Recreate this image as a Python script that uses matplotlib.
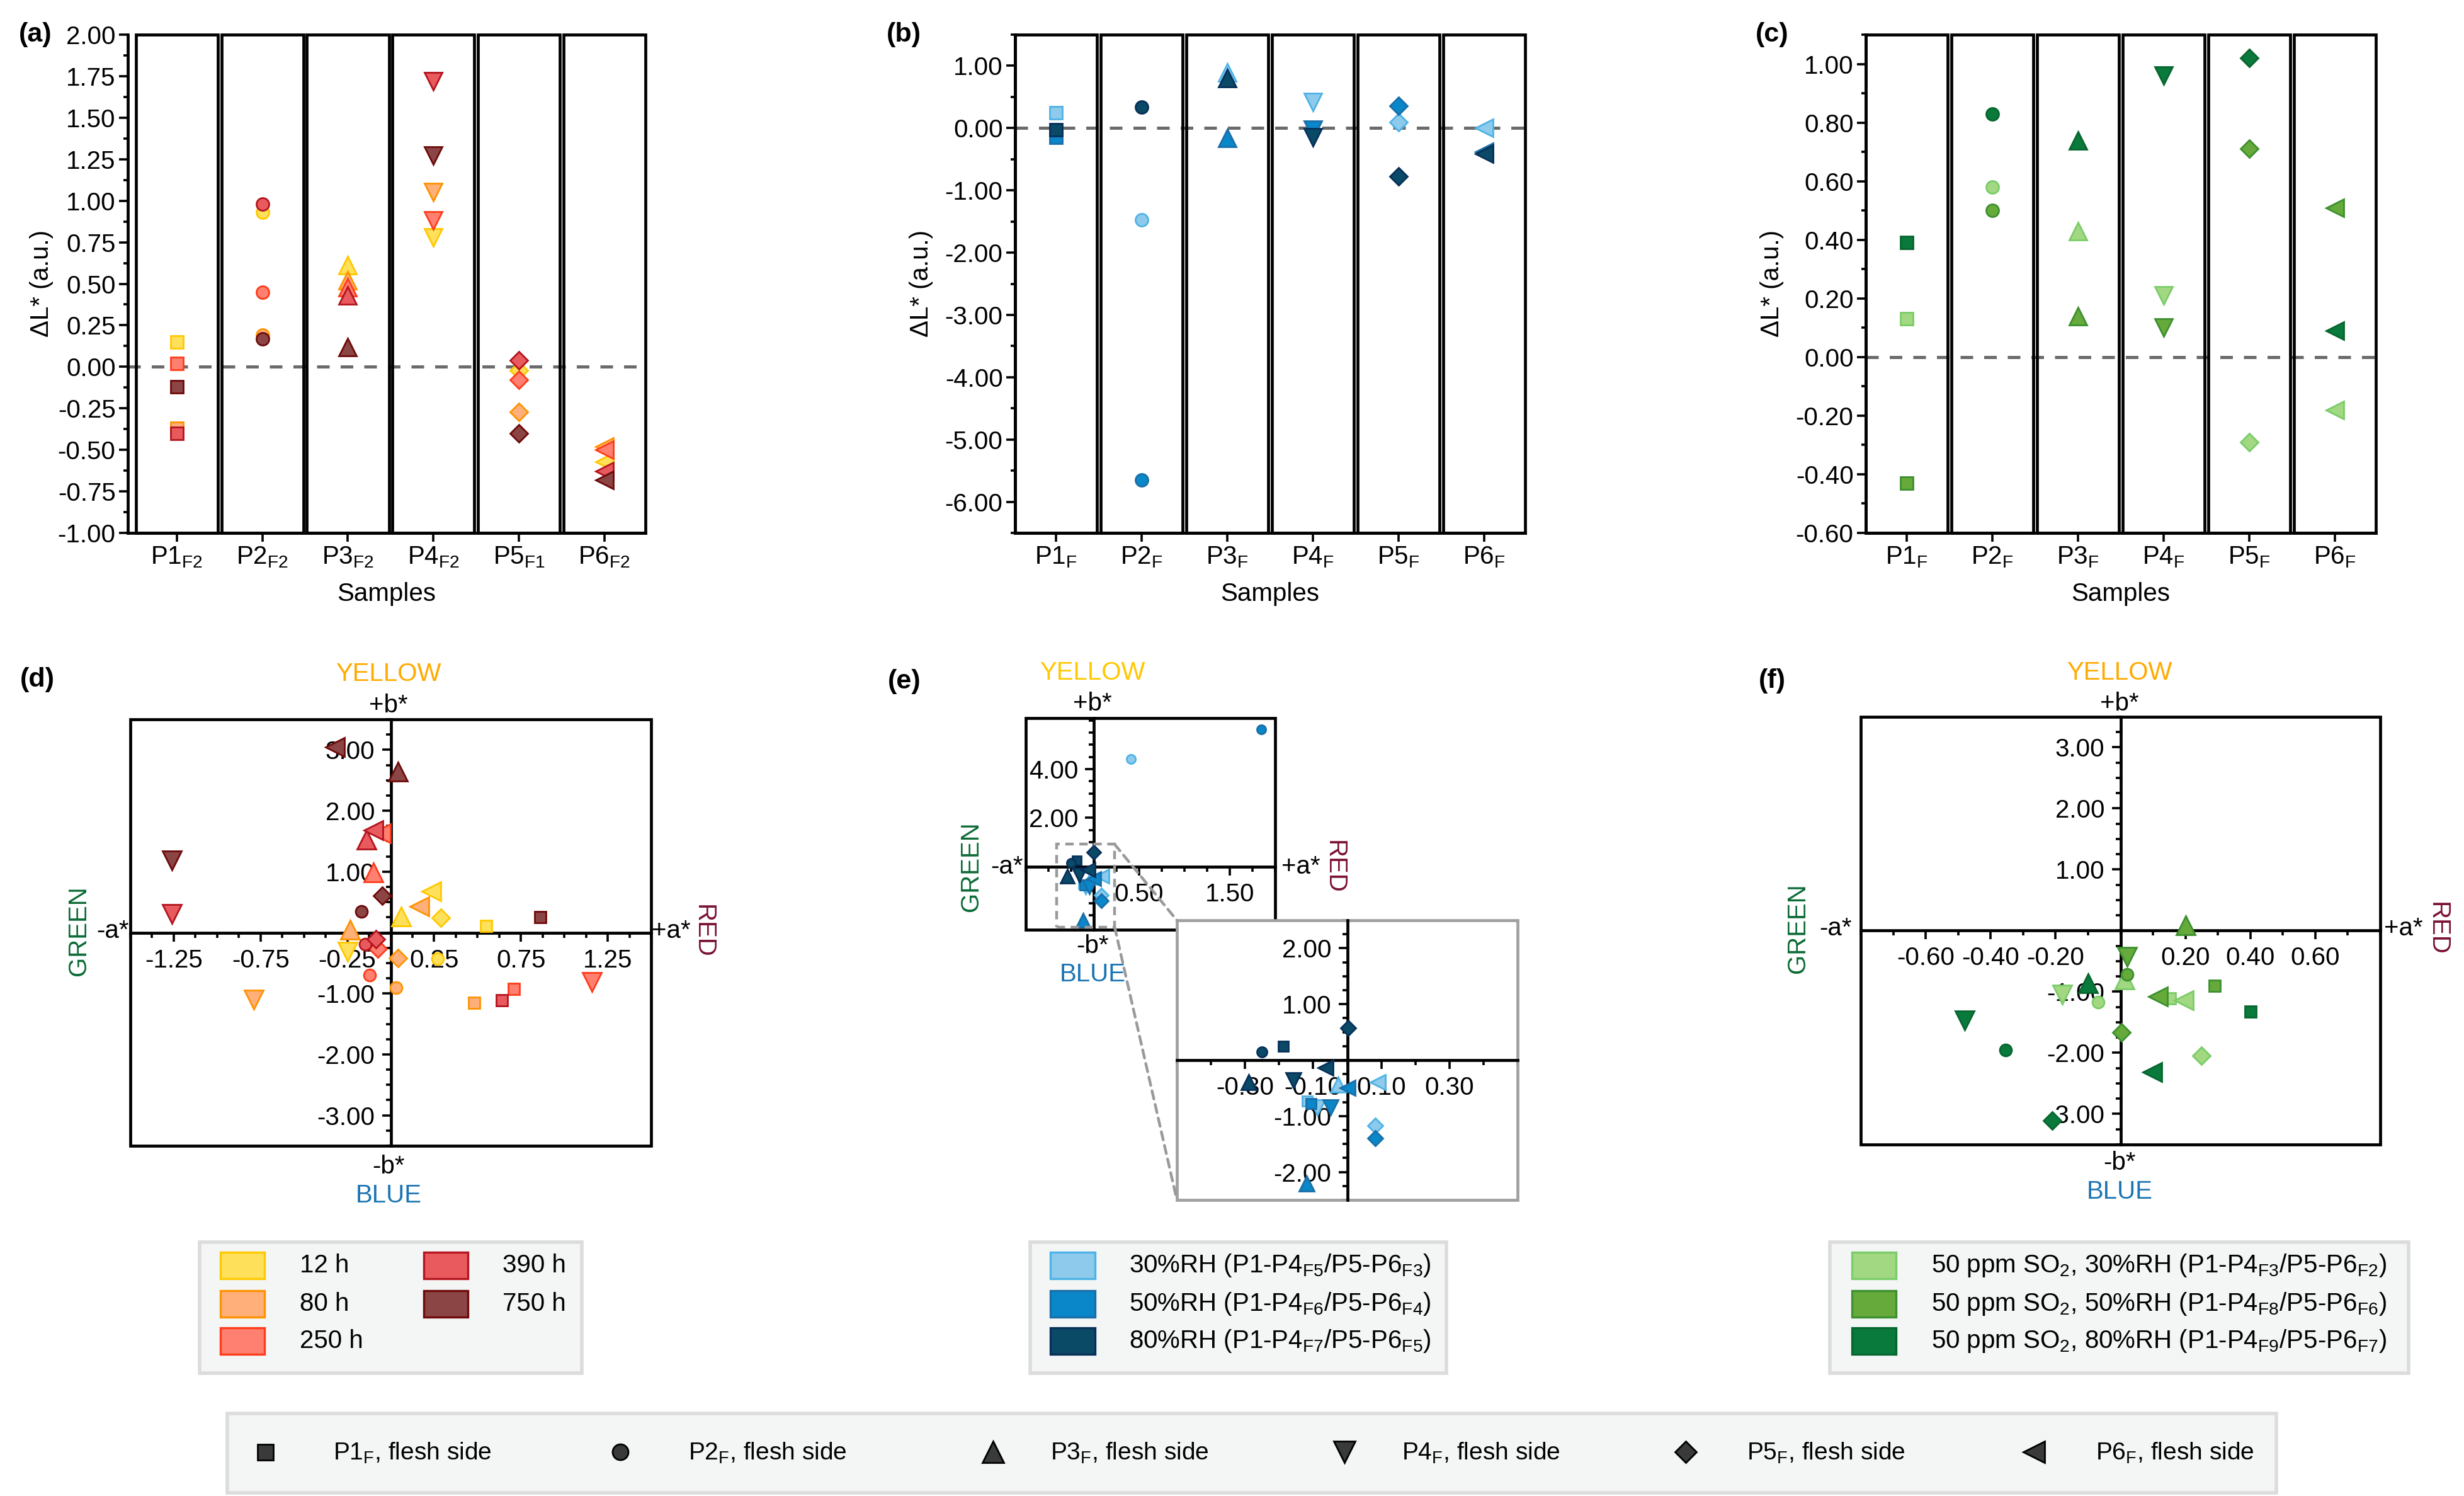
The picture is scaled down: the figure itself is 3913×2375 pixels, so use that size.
import numpy as np
import matplotlib
matplotlib.use('Agg')
import matplotlib.pyplot as plt
from matplotlib.patches import Rectangle, ConnectionPatch
from matplotlib.lines import Line2D
from matplotlib.ticker import MultipleLocator, FixedLocator, FormatStrFormatter

W, H, DPI = 3913, 2375, 200
plt.rcParams['font.family'] = ['Liberation Sans', 'DejaVu Sans']
plt.rcParams['mathtext.default'] = 'regular'
plt.rcParams['axes.unicode_minus'] = False
FS = 14.5
LW = 1.7

# ---- data ----
samples = ['P1', 'P2', 'P3', 'P4', 'P5', 'P6']
markers = ['s', 'o', '^', 'v', 'D', '<']

# (a)/(d) exposure time
hours = ['12 h', '80 h', '250 h', '390 h', '750 h']
hour_face = ['#FFE05A', '#FFB07A', '#FF8070', '#E85A5E', '#8B4545']
hour_edge = ['#FFC800', '#FF9200', '#FF3B1A', '#B3141E', '#6E0A0A']
subs_a = ['F2', 'F2', 'F2', 'F2', 'F1', 'F2']
dL_a = [[0.15, 0.93, 0.61, 0.78, -0.02, -0.57],
        [-0.37, 0.19, 0.52, 1.05, -0.27, -0.48],
        [0.02, 0.45, 0.48, 0.88, -0.08, -0.50],
        [-0.40, 0.98, 0.43, 1.72, 0.04, -0.63],
        [-0.12, 0.17, 0.12, 1.27, -0.40, -0.68]]
da_d = [[0.55, 0.27, 0.06, -0.25, 0.29, 0.235],
        [0.48, 0.03, -0.235, -0.79, 0.04, 0.164],
        [0.71, -0.12, -0.10, 1.16, -0.074, -0.056],
        [0.64, -0.148, -0.14, -1.26, -0.085, -0.10],
        [0.86, -0.167, 0.04, -1.26, -0.05, -0.32]]
db_d = [[0.11, -0.43, 0.26, -0.32, 0.24, 0.68],
        [-1.15, -0.90, 0.05, -1.10, -0.42, 0.43],
        [-0.93, -0.70, 0.99, -0.81, -0.26, 1.63],
        [-1.11, -0.19, 1.52, 0.30, -0.11, 1.68],
        [0.25, 0.345, 2.64, 1.18, 0.60, 3.04]]

# (b)/(e) relative humidity
rh = ['30%RH (P1-P4$_{F5}$/P5-P6$_{F3}$)',
      '50%RH (P1-P4$_{F6}$/P5-P6$_{F4}$)',
      '80%RH (P1-P4$_{F7}$/P5-P6$_{F5}$)']
rh_face = ['#8ECAEC', '#0A87C8', '#0B4A66']
rh_edge = ['#4DB3E6', '#1A6EA8', '#06305A']
subs_f = ['F', 'F', 'F', 'F', 'F', 'F']
dL_b = [[0.25, -1.47, 0.89, 0.42, 0.09, 0.00],
        [-0.15, -5.65, -0.16, -0.03, 0.36, -0.38],
        [-0.03, 0.34, 0.80, -0.15, -0.78, -0.41]]
da_e = [[-0.117, 0.41, -0.027, -0.087, 0.082, 0.09],
        [-0.107, 1.85, -0.12, -0.049, 0.082, 0.0],
        [-0.188, -0.25, -0.29, -0.158, 0.003, -0.063]]
db_e = [[-0.73, 4.42, -0.44, -0.85, -1.17, -0.39],
        [-0.78, 5.64, -2.21, -0.85, -1.40, -0.49],
        [0.25, 0.15, -0.39, -0.36, 0.575, -0.14]]

# (c)/(f) SO2 + humidity
so2 = ['50 ppm SO$_2$, 30%RH (P1-P4$_{F3}$/P5-P6$_{F2}$)',
       '50 ppm SO$_2$, 50%RH (P1-P4$_{F8}$/P5-P6$_{F6}$)',
       '50 ppm SO$_2$, 80%RH (P1-P4$_{F9}$/P5-P6$_{F7}$)']
so2_face = ['#A2D882', '#66AA3C', '#0A7A3C']
so2_edge = ['#7ACC68', '#3C902E', '#06662E']
dL_c = [[0.13, 0.58, 0.43, 0.21, -0.29, -0.18],
        [-0.43, 0.50, 0.14, 0.10, 0.71, 0.51],
        [0.39, 0.83, 0.74, 0.96, 1.02, 0.09]]
da_f = [[0.153, -0.069, 0.012, -0.18, 0.25, 0.195],
        [0.29, 0.021, 0.20, 0.021, 0.003, 0.116],
        [0.40, -0.353, -0.10, -0.48, -0.21, 0.098]]
db_f = [[-1.11, -1.17, -0.80, -1.05, -2.05, -1.14],
        [-0.90, -0.72, 0.09, -0.43, -1.66, -1.08],
        [-1.32, -1.95, -0.86, -1.47, -3.11, -2.31]]

flesh = [s + '$_F$, flesh side' for s in samples]

fig = plt.figure(figsize=(W / DPI, H / DPI), dpi=DPI)


def frac(x0, y0, x1, y1):
    # pixel box -> figure rect
    return [x0 / W, 1 - y1 / H, (x1 - x0) / W, (y1 - y0) / H]


def txt(x, y, s, **kw):
    kw.setdefault('fontsize', FS)
    kw.setdefault('ha', 'center')
    kw.setdefault('va', 'center')
    fig.text(x / W, 1 - y / H, s, **kw)


def dl_panel(rect, values, faces, edges, subs, ylim, major, minor, xleft):
    ax = fig.add_axes(rect)
    pos = np.arange(1, len(samples) + 1)
    for p in pos:
        ax.add_patch(Rectangle((p - 0.48, ylim[0]), 0.96, ylim[1] - ylim[0], fill=False,
                               ec='black', lw=LW, zorder=2, clip_on=False))
    ax.axhline(0, color='#6b6b6b', lw=1.8, ls=(0, (4, 3.5)), zorder=1)
    for vals, fc, ec in zip(values, faces, edges):
        for p, v, m in zip(pos, vals, markers):
            ms = 10 if m in '^v<' else 7.2
            ax.plot(p, v, ls='none', marker=m, ms=ms, mfc=fc, mec=ec, mew=1.0, zorder=3)
    ax.set_xlim(xleft, 6.48)
    ax.set_ylim(ylim)
    for s in ['top', 'right']:
        ax.spines[s].set_visible(False)
    for s in ['left', 'bottom']:
        ax.spines[s].set_linewidth(LW)
    ax.set_xticks(pos)
    ax.set_xticklabels([f'{s}$_{{{t}}}$' for s, t in zip(samples, subs)])
    ax.yaxis.set_major_locator(MultipleLocator(major))
    ax.yaxis.set_minor_locator(MultipleLocator(minor))
    ax.yaxis.set_major_formatter(FormatStrFormatter('%.2f'))
    ax.tick_params(axis='both', which='major', length=5, width=1.3, labelsize=FS, pad=2)
    ax.tick_params(axis='y', which='minor', length=2.5, width=1.3)
    return ax


def cross_panel(rect, xlim, ylim, xlab, xminor, ylab, yminor, box='black', ypad=4):
    ax = fig.add_axes(rect)
    ax.set_xlim(xlim)
    ax.set_ylim(ylim)
    ax.spines['left'].set_position(('data', 0))
    ax.spines['bottom'].set_position(('data', 0))
    for s in ['top', 'right']:
        ax.spines[s].set_visible(False)
    for s in ['left', 'bottom']:
        ax.spines[s].set_linewidth(LW)
    ax.add_patch(Rectangle((0, 0), 1, 1, transform=ax.transAxes, fill=False, ec=box,
                           lw=LW, zorder=2.5, clip_on=False))
    ax.xaxis.set_major_locator(FixedLocator(xlab))
    ax.xaxis.set_minor_locator(MultipleLocator(xminor))
    ax.yaxis.set_major_locator(FixedLocator(ylab))
    ax.yaxis.set_minor_locator(MultipleLocator(yminor))
    ax.xaxis.set_major_formatter(FormatStrFormatter('%.2f'))
    ax.yaxis.set_major_formatter(FormatStrFormatter('%.2f'))
    ax.tick_params(which='major', direction='out', length=5, width=1.3, labelsize=FS)
    ax.tick_params(which='minor', direction='out', length=3, width=1.3)
    ax.tick_params(axis='y', pad=ypad)
    ax.tick_params(axis='x', pad=4)
    return ax


def scatter_ab(ax, xs, ys, faces, edges, small=1.0, clip=False):
    for xv, yv, fc, ec in zip(xs, ys, faces, edges):
        for x, y, m in zip(xv, yv, markers):
            ms = (10.5 if m in '^v<' else (7.2 if m == 'D' else 6.8)) * small
            ax.plot(x, y, ls='none', marker=m, ms=ms, mfc=fc, mec=ec, mew=1.0,
                    zorder=3, clip_on=clip)


# ---- top row: delta L* ----
top_y0, top_y1 = 55, 846
dl_panel(frac(203, top_y0, 1025, top_y1), dL_a, hour_face, hour_edge, subs_a,
         (-1.0, 2.0), 0.25, 0.125, 0.426)
dl_panel(frac(1612, top_y0, 2422, top_y1), dL_b, rh_face, rh_edge, subs_f,
         (-6.5, 1.5), 1.0, 0.5, 0.52)
dl_panel(frac(2963, top_y0, 3773, top_y1), dL_c, so2_face, so2_edge, subs_f,
         (-0.6, 1.1), 0.2, 0.1, 0.52)

for lab, lx, yx, cx in [('(a)', 56, 66, 614), ('(b)', 1435, 1463, 2017), ('(c)', 2814, 2814, 3368)]:
    txt(lx, 55, lab, fontsize=15.5, fontweight='bold')
    txt(yx, 450, 'ΔL* (a.u.)', rotation=90)
    txt(cx, 943, 'Samples')

# ---- middle row: a*/b* planes ----
axd = cross_panel(frac(207, 1142, 1034, 1819), (-1.5, 1.5), (-3.5, 3.5),
                  [-1.25, -0.75, -0.25, 0.25, 0.75, 1.25], 0.125,
                  [-3, -2, -1, 1, 2, 3], 0.25)
scatter_ab(axd, da_d, db_d, hour_face, hour_edge)

axe = cross_panel(frac(1629, 1140, 2025, 1476), (-0.75, 2.0), (-2.6, 6.1),
                  [0.5, 1.5], 0.25, [2, 4], 0.5)
scatter_ab(axe, da_e, db_e, rh_face, rh_edge, small=0.75)
axe.add_patch(Rectangle((-0.41, -2.49), 0.64, 3.40, fill=False, ec='#9a9a9a', lw=1.6,
                        ls=(0, (3, 2)), zorder=4))

axi = cross_panel(frac(1869, 1461, 2410, 1905), (-0.5, 0.5), (-2.5, 2.5),
                  [-0.3, -0.1, 0.1, 0.3], 0.1, [-2, -1, 1, 2], 0.25, box='#a0a0a0')
axi.set_facecolor('white')
scatter_ab(axi, da_e, db_e, rh_face, rh_edge, small=0.85, clip=True)
for corner_main, corner_in in [((0.23, 0.91), (0, 1)), ((0.23, -2.49), (0, 0))]:
    con = ConnectionPatch(xyA=corner_main, coordsA=axe.transData, xyB=corner_in,
                          coordsB=axi.transAxes, color='#9a9a9a', lw=1.6, ls=(0, (3, 2)))
    con.set_zorder(5)
    fig.add_artist(con)

axf = cross_panel(frac(2955, 1138, 3780, 1817), (-0.8, 0.8), (-3.5, 3.5),
                  [-0.6, -0.4, -0.2, 0.2, 0.4, 0.6], 0.1,
                  [-3, -2, -1, 1, 2, 3], 0.25)
scatter_ab(axf, da_f, db_f, so2_face, so2_edge)

# compass labels
for lab, lx, ly, cx, yel_y, pb_y, mb_y, blue_y, ma_x, gr_x, pa_x, red_x, my, ycol in [
        ('(d)', 59, 1079, 617, 1070, 1120, 1852, 1898, 179, 125, 1066, 1117, 1478, '#FFAA00'),
        ('(e)', 1436, 1082, 1735, 1068, 1117, 1502, 1547, 1599, 1542, 2066, 2119, 1376, '#FFC800'),
        ('(f)', 2814, 1081, 3366, 1068, 1117, 1846, 1892, 2915, 2855, 3817, 3871, 1474, '#FFAA00')]:
    txt(lx, ly, lab, fontsize=15.5, fontweight='bold')
    txt(cx, yel_y, 'YELLOW', color=ycol)
    txt(cx, pb_y, '+b*')
    txt(cx, mb_y, '-b*')
    txt(cx, blue_y, 'BLUE', color='#1C75B3')
    txt(ma_x, my, '-a*')
    txt(gr_x, my, 'GREEN', color='#0B6B35', rotation=90)
    txt(pa_x, my, '+a*')
    txt(red_x, my, 'RED', color='#7A1035', rotation=270)


# ---- legends ----
def legend_box(x0, y0, x1, y1):
    fig.add_artist(Rectangle((x0 / W, 1 - y1 / H), (x1 - x0) / W, (y1 - y0) / H,
                             transform=fig.transFigure, fc='#F4F6F6', ec='#DCDCDC', lw=2.0))


def swatch(x0, x1, yc, fc, ec):
    h = 42
    fig.add_artist(Rectangle((x0 / W, 1 - (yc + h / 2) / H), (x1 - x0) / W, h / H,
                             transform=fig.transFigure, fc=fc, ec=ec, lw=1.2))


rows = [2009, 2070, 2129]
legend_box(317, 1972, 924, 2180)
for i, (lab, fc, ec) in enumerate(zip(hours, hour_face, hour_edge)):
    col, row = divmod(i, 3)
    hx = [350, 673][col]
    swatch(hx, hx + 70, rows[row], fc, ec)
    txt([476, 798][col], rows[row], lab, ha='left')

legend_box(1636, 1972, 2297, 2180)
for i, (lab, fc, ec) in enumerate(zip(rh, rh_face, rh_edge)):
    swatch(1668, 1739, rows[i], fc, ec)
    txt(1793, rows[i], lab, ha='left')

legend_box(2906, 1972, 3825, 2180)
for i, (lab, fc, ec) in enumerate(zip(so2, so2_face, so2_edge)):
    swatch(2941, 3011, rows[i], fc, ec)
    txt(3067, rows[i], lab, ha='left')

legend_box(361, 2244, 3615, 2370)
mk_x = [421, 985, 1577, 2135, 2677, 3230]
tx_x = [529, 1093, 1668, 2226, 2774, 3328]
for m, lab, mx, tx in zip(markers, flesh, mk_x, tx_x):
    ms = 12 if m in '^v<' else (8.5 if m == 'D' else 9)
    fig.add_artist(Line2D([mx / W], [1 - 2305 / H], transform=fig.transFigure, ls='none',
                          marker=m, ms=ms, mfc='#3a3a3a', mec='black', mew=1.0))
    txt(tx, 2307, lab, ha='left', fontsize=14)

fig.savefig('out.png', dpi=DPI, facecolor='white')
